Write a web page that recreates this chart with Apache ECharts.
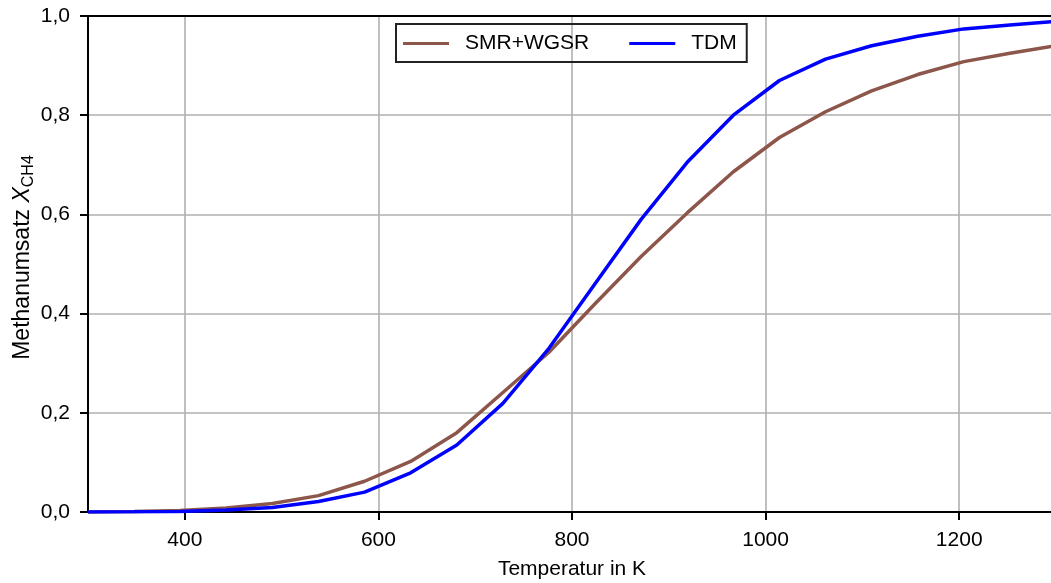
<!DOCTYPE html>
<html>
<head>
<meta charset="utf-8">
<script src="https://cdn.jsdelivr.net/npm/echarts@6/dist/echarts.min.js"></script>
<style>
  html, body { margin: 0; padding: 0; background: #fff; }
  #chart { width: 1051px; height: 583px; }
</style>
</head>
<body>
<div id="chart"></div>
<script>
// Temperatur in K
const temps = [300, 347.6, 395.2, 442.9, 490.5, 538.1, 585.7, 633.3, 681.0, 728.6, 776.2,
               823.8, 871.4, 919.0, 966.7, 1014.3, 1061.9, 1109.5, 1157.1, 1204.8, 1252.4, 1300];
// Methanumsatz
const smrWgsr = [0, 0.001, 0.003, 0.008, 0.017, 0.033, 0.062, 0.102, 0.160, 0.241, 0.322,
                 0.420, 0.515, 0.603, 0.686, 0.755, 0.807, 0.849, 0.882, 0.908, 0.925, 0.940];
const tdm = [0, 0.0003, 0.001, 0.004, 0.009, 0.021, 0.040, 0.079, 0.135, 0.219, 0.330,
             0.460, 0.590, 0.705, 0.800, 0.870, 0.913, 0.940, 0.959, 0.974, 0.982, 0.989];
const xTicks = [400, 600, 800, 1000, 1200];
const seriesNames = ['SMR+WGSR', 'TDM'];

const font = 'Liberation Sans, Arial, sans-serif';

function pairs(ys) {
    return temps.map((t, i) => [t, ys[i]]);
}

const chart = echarts.init(document.getElementById('chart'));
chart.setOption({
    backgroundColor: '#fff',
    animation: false,
    textStyle: { fontFamily: font },
    grid: {
        left: 88,
        top: 16,
        width: 968,
        height: 496,
        outerBoundsMode: 'none',
        containLabel: false
    },
    legend: {
        left: 396,
        top: 24,
        icon: 'rect',
        itemWidth: 46,
        itemHeight: 3,
        itemGap: 40,
        padding: [9, 10, 8, 7],
        borderColor: '#222',
        borderWidth: 2,
        borderRadius: 0,
        textStyle: { fontSize: 21, color: '#000', fontFamily: font, padding: [0, 0, 0, 11] },
        data: seriesNames
    },
    xAxis: [
        {
            type: 'value',
            min: 300,
            max: 1300,
            name: 'Temperatur in K',
            nameLocation: 'middle',
            nameGap: 47,
            nameMoveOverlap: false,
            nameTextStyle: { fontSize: 21, color: '#000', fontFamily: font },
            axisLine: { onZero: false, lineStyle: { color: '#000', width: 2 } },
            axisTick: { show: true, length: 8, lineStyle: { color: '#000', width: 2 }, customValues: xTicks },
            axisLabel: {
                fontSize: 21, color: '#000', margin: 18, customValues: xTicks,
                formatter: function (v) { return String(v); }
            },
            splitLine: { show: true, lineStyle: { color: '#b0b0b0', width: 1.6 } }
        },
        {
            // obere Rahmenlinie
            type: 'value',
            position: 'top',
            min: 300,
            max: 1300,
            axisLine: { show: true, onZero: false, lineStyle: { color: '#000', width: 2 } },
            axisTick: { show: false },
            axisLabel: { show: false },
            splitLine: { show: false }
        }
    ],
    yAxis: {
        type: 'value',
        min: 0,
        max: 1,
        interval: 0.2,
        name: 'Methanumsatz {i|X}{s|CH4}',
        nameLocation: 'middle',
        nameGap: 51,
        nameMoveOverlap: false,
        nameTextStyle: {
            fontSize: 23, color: '#000', fontFamily: font, lineHeight: 28,
            padding: [0, 0, 0, 13],
            rich: {
                i: { fontSize: 23, fontStyle: 'italic', color: '#000', fontFamily: font },
                s: { fontSize: 16, color: '#000', fontFamily: font, verticalAlign: 'bottom', lineHeight: 18 }
            }
        },
        axisLine: { show: true, lineStyle: { color: '#000', width: 2 } },
        axisTick: { show: true, length: 8, lineStyle: { color: '#000', width: 2 } },
        axisLabel: {
            fontSize: 21, color: '#000', margin: 18,
            formatter: function (v) { return v.toFixed(1).replace('.', ','); }
        },
        splitLine: { show: true, lineStyle: { color: '#b0b0b0', width: 1.6 } }
    },
    series: [
        {
            name: seriesNames[0],
            type: 'line',
            data: pairs(smrWgsr),
            symbol: 'none',
            lineStyle: { color: '#8c564b', width: 3.5 },
            itemStyle: { color: '#8c564b' }
        },
        {
            name: seriesNames[1],
            type: 'line',
            data: pairs(tdm),
            symbol: 'none',
            lineStyle: { color: '#0000ff', width: 3.5 },
            itemStyle: { color: '#0000ff' }
        }
    ]
});
</script>
</body>
</html>
